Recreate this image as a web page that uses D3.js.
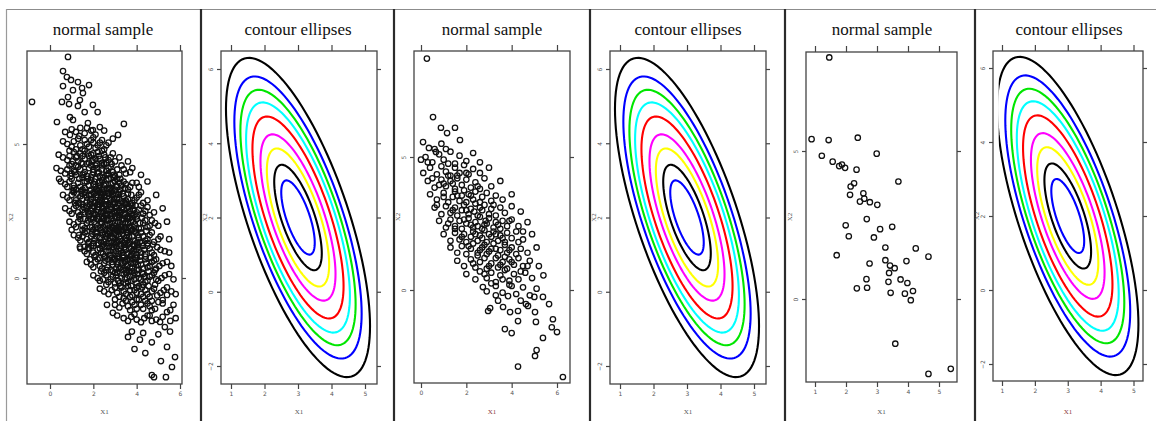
<!DOCTYPE html>
<html>
<head>
<meta charset="utf-8">
<script src="https://cdn.jsdelivr.net/npm/d3@7/dist/d3.min.js"></script>
<style>
body { margin: 0; background: #fff; }
</style>
</head>
<body>
<script>
const width = 1156
const height = 421

// sample 1 (large sample), [X1, X2]
const sample1 = [
[0.83,8.25],[0.6,7.72],[0.78,7.5],[0.97,7.39],[1.29,7.31],[1.48,7.09],[1.8,7.2],[0.6,7.16],[1.06,7.01],[1.52,6.9],
[-0.83,6.57],[0.83,6.75],[1.38,6.64],[0.55,6.57],[0.88,6.49],[1.29,6.42],[1.98,6.46],[2.2,6.19],[1.6,6.19],[0.92,6.0],
[0.32,5.82],[1.06,5.9],[1.75,5.78],[3.41,5.75],[2.3,5.63],[3.14,5.34],[1.71,5.6],[1.98,5.52],[0.92,5.34],
[0.6,5.1],[1.0,4.9],[1.3,5.2],[1.5,4.8],[1.7,5.0],[1.9,5.15],[2.1,4.85],[2.3,5.05],[2.6,4.95],[2.9,5.2],[1.2,4.8],[2.0,5.25],
[0.4,4.6],[0.8,4.4],[1.1,4.7],[1.3,4.35],[1.5,4.55],[1.6,4.75],[1.8,4.3],[1.9,4.6],[2.1,4.45],[2.2,4.7],[2.4,4.3],[2.5,4.6],
[2.7,4.4],[2.9,4.65],[3.2,4.5],[3.6,4.35],[1.0,4.25],[2.0,4.4],
[0.3,4.1],[0.7,3.9],[0.9,4.2],[1.2,3.85],[1.4,4.05],[1.5,4.25],[1.7,3.8],[1.8,4.1],[2.0,3.95],[2.1,4.2],[2.3,3.8],[2.4,4.05],
[2.5,4.25],[2.7,3.9],[2.8,4.15],[3.0,3.8],[3.1,4.05],[3.3,4.2],[3.5,3.9],[3.8,4.1],[4.2,3.85],[1.1,4.0],[1.9,3.75],[2.6,4.0],[0.42,3.7],
[0.5,3.6],[0.8,3.4],[1.0,3.7],[1.2,3.3],[1.3,3.55],[1.5,3.75],[1.6,3.35],[1.7,3.6],[1.9,3.3],[2.0,3.5],[2.1,3.7],[2.2,3.25],
[2.3,3.45],[2.4,3.65],[2.5,3.3],[2.6,3.5],[2.7,3.7],[2.8,3.35],[2.9,3.55],[3.0,3.3],[3.1,3.7],[3.3,3.45],[3.4,3.6],[3.6,3.3],
[3.8,3.55],[4.1,3.4],[4.5,3.6],[1.1,3.45],[2.25,3.55],[2.95,3.75],
[0.6,3.1],[0.9,2.9],[1.1,3.2],[1.3,2.8],[1.4,3.05],[1.6,3.2],[1.7,2.85],[1.8,3.1],[1.9,2.95],[2.0,3.2],[2.1,2.8],[2.2,3.0],
[2.3,3.2],[2.4,2.85],[2.5,3.05],[2.6,2.75],[2.7,3.15],[2.8,2.9],[2.9,3.1],[3.0,2.8],[3.1,3.0],[3.2,3.2],[3.3,2.85],[3.4,3.05],
[3.5,2.9],[3.6,3.15],[3.8,2.8],[4.0,3.0],[4.2,3.2],[4.5,2.9],[4.9,3.1],[1.5,2.95],[2.35,3.0],[2.75,3.0],
[0.7,2.6],[1.0,2.4],[1.2,2.7],[1.4,2.35],[1.5,2.55],[1.7,2.7],[1.8,2.3],[1.9,2.5],[2.0,2.7],[2.1,2.35],[2.2,2.55],[2.3,2.75],
[2.4,2.3],[2.5,2.5],[2.6,2.7],[2.7,2.35],[2.8,2.55],[2.9,2.75],[3.0,2.3],[3.1,2.5],[3.2,2.7],[3.3,2.35],[3.4,2.55],[3.5,2.75],
[3.6,2.3],[3.7,2.5],[3.8,2.7],[3.9,2.35],[4.1,2.55],[4.3,2.4],[4.5,2.65],[4.8,2.45],[5.2,2.6],[1.6,2.45],[2.45,2.6],[2.85,2.4],
[3.25,2.45],[3.55,2.6],
[0.9,2.1],[1.2,1.9],[1.4,2.2],[1.6,1.85],[1.7,2.05],[1.9,2.2],[2.0,1.8],[2.1,2.0],[2.2,2.2],[2.3,1.85],[2.4,2.05],[2.5,2.25],
[2.6,1.8],[2.7,2.0],[2.8,2.2],[2.9,1.85],[3.0,2.05],[3.1,2.25],[3.2,1.8],[3.3,2.0],[3.4,2.2],[3.5,1.85],[3.6,2.05],[3.7,2.25],
[3.8,1.8],[3.9,2.0],[4.0,2.2],[4.1,1.85],[4.3,2.05],[4.5,1.9],[4.7,2.15],[5.0,1.95],[5.4,2.1],[1.0,1.8],[2.55,2.0],[2.95,1.95],
[3.35,1.9],[3.75,2.1],[1.34,1.6],
[1.1,1.6],[1.4,1.4],[1.6,1.7],[1.8,1.35],[1.9,1.55],[2.1,1.7],[2.2,1.3],[2.3,1.5],[2.4,1.7],[2.5,1.35],[2.6,1.55],[2.7,1.75],
[2.8,1.3],[2.9,1.5],[3.0,1.7],[3.1,1.35],[3.2,1.55],[3.3,1.75],[3.4,1.3],[3.5,1.5],[3.6,1.7],[3.7,1.35],[3.8,1.55],[3.9,1.75],
[4.0,1.3],[4.1,1.5],[4.2,1.7],[4.4,1.4],[4.6,1.6],[4.8,1.35],[5.1,1.55],[5.5,1.45],[2.05,1.45],[2.75,1.5],[3.15,1.4],[3.55,1.6],
[1.38,1.16],[1.6,1.16],[1.75,1.12],
[1.4,1.1],[1.7,0.9],[1.9,1.2],[2.1,0.85],[2.2,1.05],[2.4,1.2],[2.5,0.8],[2.6,1.0],[2.7,1.2],[2.8,0.85],[2.9,1.05],[3.0,1.25],
[3.1,0.8],[3.2,1.0],[3.3,1.2],[3.4,0.85],[3.5,1.05],[3.6,1.25],[3.7,0.8],[3.8,1.0],[3.9,1.2],[4.0,0.85],[4.1,1.05],[4.3,1.2],
[4.4,0.9],[4.6,1.1],[4.8,0.85],[5.1,1.05],[5.5,0.95],[2.35,0.95],[3.05,1.0],[3.75,1.1],[1.85,0.7],[2.0,0.4],
[1.7,0.6],[2.2,0.7],[2.4,0.35],[2.5,0.55],[2.7,0.7],[2.8,0.3],[2.9,0.5],[3.0,0.7],[3.2,0.35],[3.3,0.55],[3.4,0.75],[3.5,0.3],
[3.6,0.5],[3.7,0.7],[3.8,0.35],[3.9,0.55],[4.0,0.75],[4.1,0.3],[4.2,0.5],[4.4,0.7],[4.5,0.4],[4.7,0.6],[4.9,0.35],[5.2,0.55],
[5.6,0.45],[3.1,0.5],[3.95,0.6],
[2.0,0.1],[2.3,-0.1],[2.5,0.2],[2.7,-0.15],[2.9,0.05],[3.0,0.2],[3.2,-0.2],[3.3,0.0],[3.5,0.2],[3.6,-0.15],[3.7,0.05],[3.9,0.2],
[4.0,-0.2],[4.1,0.0],[4.3,0.15],[4.4,-0.15],[4.6,0.05],[4.8,0.2],[5.0,-0.1],[5.3,0.1],[5.7,-0.05],[3.45,-0.05],
[2.3,-0.4],[2.7,-0.6],[3.0,-0.35],[3.2,-0.7],[3.4,-0.5],[3.6,-0.3],[3.8,-0.65],[3.9,-0.45],[4.1,-0.3],[4.2,-0.6],[4.4,-0.45],
[4.6,-0.7],[4.8,-0.4],[5.1,-0.55],[5.4,-0.35],[5.8,-0.6],[5.2,-0.82],[5.4,-0.63],
[2.63,-1.0],[2.9,-1.3],[3.2,-1.1],[3.5,-0.85],[3.7,-1.2],[3.9,-1.0],[4.1,-0.8],[4.3,-1.15],[4.5,-0.95],[4.7,-1.2],[5.0,-0.9],
[5.4,-1.27],[5.7,-1.0],
[3.1,-1.4],[3.6,-1.6],[3.9,-1.35],[4.2,-1.65],[4.5,-1.4],[4.7,-1.6],[5.08,-1.64],[5.3,-1.83],[5.8,-1.5],
[3.6,-2.2],[3.78,-2.0],[4.15,-2.3],[4.7,-2.4],[3.9,-2.65],[4.4,-2.8],[5.4,-2.57],[5.77,-2.95],[5.12,-3.1],[5.63,-3.32],
[4.7,-3.62],[4.8,-3.7],[5.35,-3.7],[5.54,-2.0],[4.3,-2.05],[5.0,-2.1]
]

// more of sample 1 (the dense core)
const sample1Core = [
[1.2,5.45],[1.4,5.6],[1.6,5.4],[1.9,5.5],[2.1,5.35],[2.5,5.5],[1.0,5.55],[0.7,5.45],
[0.8,5.0],[1.1,5.1],[1.4,4.95],[1.6,5.15],[1.8,4.9],[2.0,5.05],[2.2,4.95],[2.4,5.15],[2.7,5.05],[1.35,5.3],[0.9,4.75],[2.5,4.8],
[0.6,4.5],[0.9,4.55],[1.2,4.5],[1.4,4.65],[1.6,4.45],[1.8,4.55],[2.0,4.65],[2.3,4.45],[2.4,4.75],[2.6,4.3],[2.8,4.5],[3.0,4.35],
[1.7,4.25],[1.2,4.2],
[0.5,4.0],[0.8,4.05],[1.0,3.9],[1.3,4.15],[1.6,3.95],[1.9,4.2],[2.0,4.05],[2.2,3.9],[2.4,4.2],[2.6,3.85],[2.7,4.1],[2.9,3.95],
[3.2,3.85],[3.4,4.05],[3.7,3.95],[1.5,3.85],[2.15,4.1],[2.85,4.25],
[0.7,3.5],[0.9,3.6],[1.1,3.35],[1.4,3.4],[1.6,3.6],[1.8,3.45],[1.9,3.65],[2.1,3.4],[2.3,3.6],[2.4,3.3],[2.5,3.45],[2.6,3.65],
[2.8,3.5],[3.0,3.6],[3.1,3.4],[3.2,3.55],[3.5,3.5],[3.7,3.4],[4.0,3.55],[2.15,3.3],[2.75,3.3],[1.5,3.3],
[0.8,3.0],[1.0,3.1],[1.2,2.9],[1.5,3.15],[1.7,3.0],[1.9,3.1],[2.0,2.85],[2.15,3.1],[2.3,2.9],[2.45,3.15],[2.55,2.9],[2.65,3.05],
[2.85,3.2],[2.95,2.95],[3.05,3.15],[3.2,2.95],[3.35,3.15],[3.45,2.8],[3.6,2.95],[3.75,3.1],[3.9,2.9],[4.1,3.1],[4.3,2.8],
[1.35,2.8],[2.2,2.75],
[0.9,2.5],[1.1,2.6],[1.3,2.45],[1.55,2.65],[1.75,2.45],[1.95,2.6],[2.05,2.4],[2.25,2.65],[2.35,2.45],[2.55,2.35],[2.65,2.55],
[2.75,2.75],[2.95,2.5],[3.05,2.65],[3.15,2.35],[3.35,2.65],[3.45,2.4],[3.65,2.65],[3.75,2.4],[3.85,2.55],[4.0,2.45],[4.2,2.7],
[4.4,2.5],[4.6,2.35],[1.85,2.75],[3.0,2.8],
[1.1,2.0],[1.3,2.1],[1.5,1.95],[1.75,2.15],[1.85,1.9],[2.05,2.1],[2.15,1.85],[2.35,2.1],[2.45,1.9],[2.65,2.15],[2.75,1.85],
[2.85,2.05],[3.05,1.85],[3.15,2.1],[3.25,1.9],[3.45,2.05],[3.55,2.25],[3.65,1.9],[3.85,2.1],[3.95,1.85],[4.15,2.05],[4.4,2.15],
[4.6,1.95],[4.85,2.05],[2.25,2.3],[3.1,1.75],
[1.3,1.5],[1.5,1.55],[1.7,1.45],[1.95,1.65],[2.15,1.55],[2.35,1.35],[2.45,1.6],[2.55,1.45],[2.65,1.65],[2.85,1.55],[2.95,1.35],
[3.05,1.6],[3.25,1.45],[3.35,1.65],[3.45,1.4],[3.65,1.55],[3.75,1.75],[3.85,1.4],[4.05,1.6],[4.15,1.35],[4.3,1.55],[4.5,1.45],
[4.7,1.7],[5.0,1.45],[2.0,1.3],[3.0,1.8],
[1.6,1.0],[1.8,1.1],[2.0,0.95],[2.3,1.1],[2.45,0.9],[2.55,1.15],[2.75,1.0],[2.85,0.75],[2.95,1.15],[3.15,0.9],[3.25,1.1],
[3.35,0.95],[3.55,0.9],[3.65,1.1],[3.85,0.9],[3.95,1.05],[4.05,1.25],[4.2,0.95],[4.35,1.05],[4.5,1.2],[4.7,0.95],[4.95,1.15],
[5.3,1.0],[3.45,1.25],
[1.9,0.5],[2.1,0.6],[2.3,0.45],[2.55,0.65],[2.65,0.4],[2.85,0.6],[3.05,0.35],[3.15,0.6],[3.25,0.4],[3.45,0.6],[3.55,0.45],
[3.65,0.25],[3.75,0.55],[3.85,0.7],[4.05,0.5],[4.15,0.65],[4.3,0.35],[4.45,0.55],[4.6,0.45],[4.8,0.65],[5.05,0.45],[5.4,0.6],
[2.2,0.0],[2.45,-0.05],[2.6,0.1],[2.8,-0.05],[3.05,0.1],[3.15,-0.1],[3.4,0.15],[3.55,0.0],[3.75,-0.1],[3.85,0.1],[4.05,0.15],
[4.2,-0.05],[4.35,0.05],[4.5,-0.1],[4.7,0.1],[4.9,-0.05],[5.15,0.0],[5.5,0.15],
[2.5,-0.5],[2.85,-0.45],[3.1,-0.55],[3.3,-0.35],[3.5,-0.6],[3.7,-0.45],[4.0,-0.55],[4.25,-0.35],[4.5,-0.6],[4.7,-0.5],
[4.95,-0.65],[5.25,-0.45],[5.6,-0.5],
[3.0,-1.0],[3.35,-0.95],[3.6,-1.05],[3.8,-0.9],[4.0,-1.15],[4.2,-1.0],[4.4,-0.85],[4.6,-1.05],[4.85,-1.15],[5.2,-0.95],[5.55,-1.2],
[3.4,-1.5],[3.75,-1.45],[4.0,-1.55],[4.35,-1.5],[4.6,-1.4],[4.9,-1.55],[5.2,-1.45],[5.55,-1.6],
[1.05,4.35],[1.25,4.55],[1.45,4.3],[1.75,4.65],[1.95,4.35],[2.25,4.55],[2.55,4.5],[2.15,4.25],
[0.95,3.8],[1.15,3.95],[1.35,3.7],[1.55,3.9],[1.75,3.7],[1.95,3.85],[2.25,3.95],[2.45,3.75],[2.65,3.85],[2.95,3.85],[3.25,3.7],
[2.05,3.6],
[1.05,3.25],[1.25,3.15],[1.45,3.25],[1.65,3.1],[1.85,3.25],[2.05,3.15],[2.25,3.35],[2.45,3.2],[2.65,3.35],[2.85,3.25],[3.05,3.45],
[3.25,3.3],[3.45,3.35],[2.35,3.1],[2.75,3.15],[3.15,3.1],
[1.15,2.8],[1.45,2.75],[1.65,2.6],[1.85,2.85],[2.05,2.65],[2.25,2.85],[2.4,2.65],[2.6,2.85],[2.8,2.65],[2.95,2.85],[3.15,2.8],
[3.3,2.6],[3.5,2.85],[3.7,2.75],[3.95,2.7],[2.5,2.75],[3.1,2.6],
[1.35,2.3],[1.6,2.2],[1.8,2.4],[2.0,2.25],[2.2,2.45],[2.4,2.2],[2.6,2.4],[2.8,2.3],[3.0,2.45],[3.2,2.25],[3.4,2.4],[3.6,2.2],
[3.8,2.35],[4.0,2.3],[4.25,2.25],[2.7,2.2],[3.3,2.15],
[1.5,1.8],[1.7,1.75],[1.95,1.9],[2.15,1.7],[2.35,1.8],[2.55,1.65],[2.75,1.75],[2.95,1.65],[3.15,1.85],[3.35,1.8],[3.55,1.7],
[3.75,1.85],[3.95,1.7],[4.2,1.85],[4.45,1.75],[2.85,1.9],[3.45,1.9],
[1.75,1.3],[2.0,1.2],[2.25,1.25],[2.45,1.25],[2.65,1.3],[2.85,1.15],[3.05,1.3],[3.25,1.25],[3.45,1.15],[3.65,1.3],[3.85,1.25],
[4.05,1.15],[4.25,1.3],[4.5,1.3],[4.75,1.25],[3.55,1.4],
[2.05,0.8],[2.3,0.75],[2.55,0.8],[2.75,0.85],[2.95,0.7],[3.15,0.75],[3.35,0.8],[3.55,0.7],[3.75,0.85],[3.95,0.75],[4.15,0.8],
[4.4,0.8],[4.65,0.75],[4.9,0.7],[3.45,0.65],
[2.35,0.25],[2.6,0.3],[2.9,0.25],[3.1,0.2],[3.35,0.3],[3.55,0.2],[3.8,0.25],[4.0,0.3],[4.25,0.2],[4.55,0.25],[4.85,0.3],[3.7,0.4],
[2.6,-0.25],[3.0,-0.2],[3.25,-0.3],[3.5,-0.2],[3.75,-0.3],[4.0,-0.35],[4.3,-0.25],[4.55,-0.3],[4.85,-0.25],[3.9,-0.05],
[3.0,-0.8],[3.4,-0.75],[3.7,-0.7],[4.0,-0.8],[4.3,-0.7],[4.7,-0.85]
]

// sample 2 (medium sample)
const sample2 = [
[0.26,8.7],[0.53,6.5],[0.88,6.1],[1.15,5.9],[0.09,5.56],[0.35,5.34],[0.66,5.19],[1.5,6.1],[1.72,5.64],[0.9,5.5],
[0.2,5.0],[0.5,4.8],[0.8,5.1],[1.0,4.9],[1.3,5.2],[1.5,4.75],[1.7,5.05],[2.0,4.85],[2.3,5.15],[1.1,5.3],[0.0,4.9],[2.6,4.8],
[0.1,4.4],[0.4,4.6],[0.7,4.35],[0.9,4.65],[1.1,4.45],[1.3,4.3],[1.5,4.6],[1.7,4.4],[1.9,4.7],[2.1,4.35],[2.3,4.55],[2.6,4.4],
[3.0,4.6],[1.2,4.75],
[0.3,4.1],[0.6,3.85],[0.9,4.15],[1.1,3.9],[1.3,4.1],[1.5,3.8],[1.6,4.2],[1.8,3.95],[2.0,4.15],[2.2,3.85],[2.4,4.05],[2.6,3.8],
[2.8,4.2],[3.1,3.9],[3.5,4.1],[1.4,4.0],
[0.4,3.6],[0.7,3.4],[1.0,3.65],[1.2,3.3],[1.4,3.5],[1.5,3.7],[1.7,3.35],[1.8,3.55],[2.0,3.3],[2.1,3.6],[2.3,3.4],[2.4,3.7],
[2.6,3.3],[2.7,3.5],[2.9,3.65],[3.1,3.35],[3.3,3.55],[3.6,3.4],[4.0,3.6],[1.9,3.75],
[0.6,3.1],[0.9,2.85],[1.1,3.15],[1.3,2.9],[1.5,3.1],[1.6,2.8],[1.8,3.0],[1.9,3.2],[2.1,2.85],[2.2,3.05],[2.4,3.25],[2.5,2.8],
[2.7,3.0],[2.8,3.2],[3.0,2.85],[3.1,3.05],[3.3,2.8],[3.5,3.1],[3.7,2.9],[4.0,3.15],[4.4,2.95],[2.35,2.95],
[0.8,2.6],[1.1,2.35],[1.3,2.65],[1.5,2.4],[1.7,2.6],[1.8,2.3],[2.0,2.5],[2.1,2.7],[2.3,2.35],[2.4,2.55],[2.6,2.75],[2.7,2.3],
[2.9,2.5],[3.0,2.7],[3.2,2.35],[3.3,2.55],[3.5,2.3],[3.6,2.6],[3.8,2.4],[4.0,2.65],[4.3,2.4],[4.7,2.55],[2.5,2.4],[2.85,2.6],
[1.0,2.1],[1.3,1.85],[1.5,2.15],[1.7,1.9],[1.9,2.1],[2.0,1.8],[2.2,2.0],[2.3,2.2],[2.5,1.85],[2.6,2.05],[2.8,2.25],[2.9,1.8],
[3.1,2.0],[3.2,2.2],[3.4,1.85],[3.5,2.05],[3.7,1.8],[3.8,2.15],[4.0,1.95],[4.2,2.2],[4.5,1.9],[4.9,2.1],[2.7,1.95],[3.3,2.1],
[1.3,1.6],[1.6,1.4],[1.8,1.65],[2.0,1.35],[2.2,1.55],[2.3,1.75],[2.5,1.3],[2.6,1.5],[2.8,1.7],[2.9,1.35],[3.1,1.55],[3.2,1.75],
[3.4,1.3],[3.5,1.5],[3.7,1.7],[3.8,1.4],[4.0,1.6],[4.2,1.35],[4.4,1.55],[4.7,1.4],[5.1,1.6],[3.0,1.45],
[1.6,1.1],[1.9,0.9],[2.2,1.15],[2.4,0.85],[2.6,1.05],[2.8,1.2],[2.9,0.8],[3.1,1.0],[3.3,1.2],[3.4,0.85],[3.6,1.05],[3.8,0.8],
[3.9,1.15],[4.1,0.95],[4.3,1.2],[4.5,0.9],[4.8,1.1],[5.2,0.9],
[2.0,0.6],[2.4,0.4],[2.6,0.7],[2.9,0.45],[3.1,0.65],[3.3,0.3],[3.5,0.55],[3.7,0.75],[3.9,0.35],[4.1,0.6],[4.3,0.4],[4.6,0.65],
[4.9,0.45],[5.4,0.55],
[2.73,0.11],[2.9,-0.05],[3.3,0.15],[3.6,-0.1],[3.9,0.2],[4.2,-0.15],[4.5,0.1],[4.8,-0.2],[5.1,0.05],[3.1,0.25],
[2.96,-0.79],[3.05,-0.68],[3.7,-1.47],[4.0,-1.62],[4.28,-1.17],[4.28,-2.88],[5.07,-1.2],[5.03,-0.83],[5.38,-0.26],[5.65,-0.53],
[5.82,-1.1],[5.77,-1.4],[6.0,-1.58],[5.38,-1.8],[5.1,-2.26],[5.03,-2.48],[6.26,-3.27],[4.63,-0.53],[4.72,-0.6],[5.0,-0.26],
[4.28,-0.79],[3.93,-0.83],[3.62,-0.64],[3.84,-0.23],[4.4,-0.4],[3.4,-0.4],
[0.5,4.2],[0.8,3.95],[1.2,4.3],[1.0,3.5],[1.6,3.55],[2.2,3.55],[0.7,3.2],[1.4,3.0],[2.0,3.0],[2.6,3.1],[1.2,2.5],[1.9,2.65],
[2.2,2.45],[2.8,2.45],[3.4,2.45],[1.8,2.0],[2.4,2.1],[3.0,2.1],[3.6,1.95],[2.1,1.65],[2.7,1.6],[3.3,1.55],[3.9,1.5],[2.3,1.0],
[3.0,0.9],[3.5,0.95],[4.0,1.05],[2.8,0.6],[3.6,0.4],[4.4,0.7],[0.3,4.8],[0.6,5.3],[1.6,4.3],[2.0,4.4],[1.0,4.0],[2.5,3.9],
[3.2,3.2],[3.9,2.6],[4.5,2.2],[4.3,1.8],[1.5,2.3],[2.5,1.4],[3.7,1.25],[4.7,0.9],[4.0,0.15],[3.3,-0.2]
]

// sample 3 (small sample)
const sample3 = [
[1.46,8.16],[0.89,5.40],[1.44,5.37],[2.38,5.45],[1.22,4.84],[2.99,4.91],[1.57,4.64],[1.78,4.49],[1.87,4.54],[1.97,4.43],
[2.34,4.37],[3.69,3.97],[2.26,3.91],[2.15,3.80],[2.56,3.57],[2.13,3.52],[2.59,3.39],[2.45,3.29],[2.77,3.27],[3.01,3.18],
[2.67,2.70],[1.99,2.49],[3.49,2.44],[3.10,2.36],[2.09,2.12],[2.90,2.08],[3.27,1.74],[4.25,1.71],[1.70,1.48],[4.66,1.43],
[3.27,1.31],[3.95,1.28],[2.76,1.20],[3.42,1.13],[3.57,1.04],[3.39,0.88],[2.66,0.67],[3.76,0.66],[3.37,0.58],[3.98,0.54],
[2.35,0.36],[2.68,0.38],[4.16,0.27],[3.44,0.21],[3.90,0.18],[4.09,-0.04],[3.59,-1.51],[4.66,-2.53],[5.38,-2.36]
]

// contour ellipses of the bivariate normal
const contourCenter = [3, 2]
const contourSd = [1, 2]
const contourRho = -0.68
const contourRadii = [2.15, 1.9, 1.72, 1.55, 1.36, 1.12, 0.93, 0.71, 0.5]
const contourColors = ['#000000', '#0000ff', '#00e600', '#00ffff', '#ff0000', '#ff00ff', '#ffff00', '#000000', '#0000ff']

const sampleXTicksA = [0, 2, 4, 6]
const sampleXTicksB = [1, 2, 3, 4, 5]
const sampleYTicks = [0, 5]
const contourXTicks = [1, 2, 3, 4, 5]
const contourYTicks = [-2, 0, 2, 4, 6]

const titles = ['normal sample', 'contour ellipses']

// panel layout (pixel calibration from the tick marks)
const panels = [
	{ kind: 'sample', data: sample1.concat(sample1Core), title: titles[0], cx: 103, box: [27, 182, 51, 384],
		xCal: [0, 6], xPx: [50, 180], yCal: [0, 5], yPx: [278, 144], xTicks: sampleXTicksA, yTicks: sampleYTicks },
	{ kind: 'contour', title: titles[1], cx: 298, box: [221, 377, 51, 384],
		xCal: [1, 5], xPx: [231, 365], yCal: [-2, 6], yPx: [366, 69], xTicks: contourXTicks, yTicks: contourYTicks },
	{ kind: 'sample', data: sample2, title: titles[0], cx: 492, box: [414, 570, 51, 383],
		xCal: [0, 6], xPx: [421, 557], yCal: [0, 5], yPx: [290, 157], xTicks: sampleXTicksA, yTicks: sampleYTicks },
	{ kind: 'contour', title: titles[1], cx: 688, box: [610, 766, 51, 384],
		xCal: [1, 5], xPx: [620, 754], yCal: [-2, 6], yPx: [366, 69], xTicks: contourXTicks, yTicks: contourYTicks },
	{ kind: 'sample', data: sample3, title: titles[0], cx: 882, box: [806, 957, 52, 382],
		xCal: [1, 5], xPx: [815, 939], yCal: [0, 5], yPx: [299, 151], xTicks: sampleXTicksB, yTicks: sampleYTicks },
	{ kind: 'contour', title: titles[1], cx: 1069, box: [993, 1143, 51, 381], clipX: 0.9,
		xCal: [1, 5], xPx: [1002, 1133.5], yCal: [-2, 6], yPx: [364, 68], xTicks: contourXTicks, yTicks: contourYTicks }
]

const separators = [201, 394, 590, 785, 975]

const svg = d3.select('body')
	.append('svg')
	.attr('width', width)
	.attr('height', height)

svg.append('rect')
	.attr('width', width)
	.attr('height', height)
	.attr('fill', '#fff')

// outer frame
svg.append('line')
	.attr('x1', 6).attr('x2', width).attr('y1', 9.5).attr('y2', 9.5)
	.attr('stroke', '#8c8c8c').attr('stroke-width', 1.2)
svg.append('line')
	.attr('x1', 6.5).attr('x2', 6.5).attr('y1', 9).attr('y2', height)
	.attr('stroke', '#9a9a9a').attr('stroke-width', 1.2)

svg.selectAll('.sep')
	.data(separators)
	.enter()
	.append('line')
	.attr('class', 'sep')
	.attr('x1', d => d).attr('x2', d => d)
	.attr('y1', 9).attr('y2', height)
	.attr('stroke', '#2b2b2b')
	.attr('stroke-width', 2.2)

const ellipsePoints = (r) => d3.range(0, 121).map(i => {
	const t = i / 120 * 2 * Math.PI
	const c = Math.cos(t)
	const s = Math.sin(t)
	return [
		contourCenter[0] + r * contourSd[0] * c,
		contourCenter[1] + r * contourSd[1] * (contourRho * c + Math.sqrt(1 - contourRho * contourRho) * s)
	]
})

panels.forEach((p, pi) => {
	const [l, r, t, b] = p.box
	const x = d3.scaleLinear().domain(p.xCal).range(p.xPx)
	const y = d3.scaleLinear().domain(p.yCal).range(p.yPx)
	const g = svg.append('g')

	g.append('text')
		.attr('x', p.cx)
		.attr('y', 35)
		.attr('text-anchor', 'middle')
		.style('font-family', '"Liberation Serif", "DejaVu Serif", serif')
		.style('font-size', '17px')
		.attr('fill', '#111')
		.text(p.title)

	const styleAxis = (sel) => {
		sel.select('.domain').remove()
		sel.selectAll('line').attr('stroke', '#444').attr('stroke-width', 1.2)
		sel.selectAll('text')
			.attr('font-family', 'DejaVu Sans, sans-serif')
			.attr('font-size', 6)
			.attr('fill', '#555')
	}

	g.append('g')
		.attr('transform', `translate(0,${b})`)
		.call(d3.axisBottom(x).tickValues(p.xTicks).tickSize(5).tickPadding(3).tickFormat(d3.format('d')))
		.call(styleAxis)

	g.append('g')
		.attr('transform', `translate(0,${t})`)
		.call(d3.axisTop(x).tickValues(p.xTicks).tickSize(6).tickFormat(''))
		.call(styleAxis)

	const left = g.append('g')
		.attr('transform', `translate(${l},0)`)
		.call(d3.axisLeft(y).tickValues(p.yTicks).tickSize(4).tickFormat(d3.format('d')))
		.call(styleAxis)
	left.selectAll('text')
		.attr('x', null)
		.attr('dy', null)
		.attr('text-anchor', 'middle')
		.attr('transform', 'translate(-8,0) rotate(-90)')

	g.append('g')
		.attr('transform', `translate(${r},0)`)
		.call(d3.axisRight(y).tickValues(p.yTicks).tickSize(4).tickFormat(''))
		.call(styleAxis)

	g.append('text')
		.attr('x', (l + r) / 2)
		.attr('y', 414)
		.attr('text-anchor', 'middle')
		.style('font-family', '"Liberation Serif", "DejaVu Serif", serif')
		.style('font-size', '7px')
		.attr('fill', pi === 2 || pi === 5 ? '#8b3a3a' : '#555')
		.text('X1')

	g.append('text')
		.attr('transform', `translate(${l - 14},${(t + b) / 2}) rotate(-90)`)
		.attr('text-anchor', 'middle')
		.style('font-family', '"Liberation Serif", "DejaVu Serif", serif')
		.style('font-size', '7px')
		.attr('fill', '#555')
		.text('X2')

	const clipId = `clip${pi}`
	const clipLeft = p.clipX !== undefined ? Math.max(l, x(p.clipX)) : l
	svg.append('clipPath')
		.attr('id', clipId)
		.append('rect')
		.attr('x', clipLeft)
		.attr('y', t)
		.attr('width', r - clipLeft)
		.attr('height', b - t)

	const plot = g.append('g').attr('clip-path', `url(#${clipId})`)

	if (p.kind === 'sample') {
		plot.selectAll('circle')
			.data(p.data)
			.enter()
			.append('circle')
			.attr('cx', d => x(d[0]))
			.attr('cy', d => y(d[1]))
			.attr('r', 2.7)
			.attr('fill', 'none')
			.attr('stroke', '#111')
			.attr('stroke-width', 1.3)
	} else {
		const lineMaker = d3.line()
			.x(d => x(d[0]))
			.y(d => y(d[1]))
			.curve(d3.curveLinearClosed)
		plot.selectAll('path')
			.data(contourRadii)
			.enter()
			.append('path')
			.attr('d', d => lineMaker(ellipsePoints(d)))
			.attr('fill', 'none')
			.attr('stroke', (d, i) => contourColors[i])
			.attr('stroke-width', 2.1)
	}

	g.append('rect')
		.attr('x', l)
		.attr('y', t)
		.attr('width', r - l)
		.attr('height', b - t)
		.attr('fill', 'none')
		.attr('stroke', '#444')
		.attr('stroke-width', 1.3)
})
</script>
</body>
</html>
